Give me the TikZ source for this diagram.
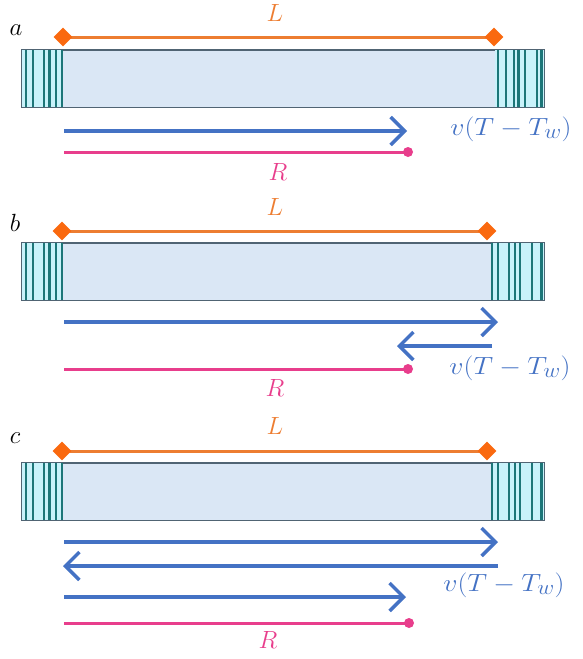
\documentclass[tikz,border=0pt]{standalone}
\usetikzlibrary{arrows.meta,shapes.geometric}
\definecolor{lorange}{RGB}{237,125,49}
\definecolor{dorange}{RGB}{250,105,15}
\definecolor{vblue}{RGB}{68,114,196}
\definecolor{rpink}{RGB}{232,62,140}
\definecolor{barfill}{RGB}{218,231,245}
\definecolor{stripefill}{RGB}{200,242,250}
\definecolor{stripeteal}{RGB}{28,118,120}
\definecolor{barborder}{RGB}{80,100,115}
\tikzset{
  lbl/.style={inner sep=0pt, font=\fontsize{29}{31}\selectfont},
  vlbl/.style={inner sep=0pt, text=vblue, font=\fontsize{30}{32}\selectfont},
  barbox/.style={draw=barborder, line width=1pt, fill=barfill, minimum width=522pt, minimum height=57pt, inner sep=0pt},
  stripefillst/.style={fill=stripefill},
  stripeline/.style={draw=stripeteal, line width=2.4pt},
  lline/.style={draw=lorange, line width=3pt},
  endmark/.style={diamond, fill=dorange, inner sep=0pt, minimum size=19pt},
  varrow/.style={draw=vblue, line width=3.5pt, -{Straight Barb[length=14pt, width=28pt]}},
  rline/.style={draw=rpink, line width=3pt},
  rdot/.style={circle, fill=rpink, inner sep=0pt, minimum size=10pt},
}
\newcommand{\vtext}{\scalebox{1.12}[1]{$v(T-T_w)$}}
\newcommand{\stripesbar}[4]{%
  % #1 top, #2 bottom, #3 right stripe start, #4 right stripe positions
  \fill[stripefillst] (22,#1) rectangle (63,#2);
  \fill[stripefillst] (#3,#1) rectangle (544,#2);
  \foreach \xx in {26,33,44,49.5,56,62}{\draw[stripeline] (\xx,#1) -- (\xx,#2);}
  \foreach \xx in {#4}{\draw[stripeline] (\xx,#1) -- (\xx,#2);}
}
\begin{document}
\begin{tikzpicture}[x=1pt,y=-1pt]
\useasboundingbox (0,0) rectangle (582,659);

% ---------------- panel a ----------------
\node[lbl] (la) at (16,30) {$a$};
\coordinate (La) at (63,37);
\coordinate (Ra) at (494,37);
\draw[lline] (La) -- (Ra);
\node[endmark] (Lad) at (La) {};
\node[endmark] (Rad) at (Ra) {};
\node[lbl, text=lorange] (Lta) at (275,13) {$L$};
\node[barbox] (bara) at (283,78.5) {};
\stripesbar{50}{107}{495}{498,506,514,518.5,525,537,541.5}
\draw[barborder, line width=1pt] (bara.north west) rectangle (bara.south east);
\coordinate (a1s) at (64,131);
\coordinate (a1e) at (407,131);
\draw[varrow] (a1s) -- (a1e);
\node[vlbl] (va) at (511,129) {\vtext};
\coordinate (ras) at (64,152);
\coordinate (rae) at (408,152);
\draw[rline] (ras) -- (rae);
\node[rdot] (rad) at (rae) {};
\node[lbl, text=rpink] (Rta) at (278,172) {$R$};

% ---------------- panel b ----------------
\node[lbl] (lb) at (15,223) {$b$};
\coordinate (Lb) at (62,231);
\coordinate (Rb) at (487,231);
\draw[lline] (Lb) -- (Rb);
\node[endmark] (Lbd) at (Lb) {};
\node[endmark] (Rbd) at (Rb) {};
\node[lbl, text=lorange] (Ltb) at (275,207) {$L$};
\node[barbox] (barb) at (283,271.5) {};
\stripesbar{243}{300}{491}{492,498,509,515,520,532,541.5}
\draw[barborder, line width=1pt] (barb.north west) rectangle (barb.south east);
\coordinate (b1s) at (64,322);
\coordinate (b1e) at (498,322);
\draw[varrow] (b1s) -- (b1e);
\coordinate (b2s) at (492,346);
\coordinate (b2e) at (397,346);
\draw[varrow] (b2s) -- (b2e);
\node[vlbl] (vb) at (510,368) {\vtext};
\coordinate (rbs) at (64,369);
\coordinate (rbe) at (408,369);
\draw[rline] (rbs) -- (rbe);
\node[rdot] (rbd) at (rbe) {};
\node[lbl, text=rpink] (Rtb) at (275,388) {$R$};

% ---------------- panel c ----------------
\node[lbl] (lc) at (15,438) {$c$};
\coordinate (Lc) at (62,451);
\coordinate (Rc) at (487,451);
\draw[lline] (Lc) -- (Rc);
\node[endmark] (Lcd) at (Lc) {};
\node[endmark] (Rcd) at (Rc) {};
\node[lbl, text=lorange] (Ltc) at (275,426) {$L$};
\node[barbox] (barc) at (283,491.5) {};
\stripesbar{463}{520}{491}{492,498,509,515,520,532,541.5}
\draw[barborder, line width=1pt] (barc.north west) rectangle (barc.south east);
\coordinate (c1s) at (64,542);
\coordinate (c1e) at (498,542);
\draw[varrow] (c1s) -- (c1e);
\coordinate (c2s) at (498,566);
\coordinate (c2e) at (63,566);
\draw[varrow] (c2s) -- (c2e);
\node[vlbl] (vc) at (504,585) {\vtext};
\coordinate (c3s) at (64,597);
\coordinate (c3e) at (406,597);
\draw[varrow] (c3s) -- (c3e);
\coordinate (rcs) at (64,623);
\coordinate (rce) at (409,623);
\draw[rline] (rcs) -- (rce);
\node[rdot] (rcd) at (rce) {};
\node[lbl, text=rpink] (Rtc) at (268,640) {$R$};
\end{tikzpicture}
\end{document}
